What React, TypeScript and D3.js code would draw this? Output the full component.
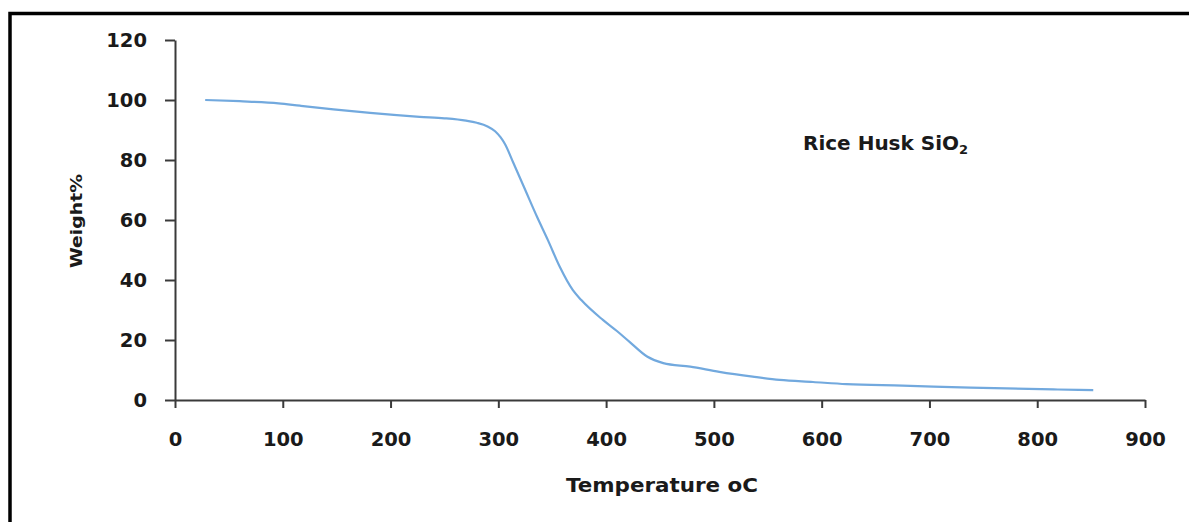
import React, { useEffect, useRef } from 'react';
import * as d3 from 'd3';

// TGA curve
const temperature = [28, 60, 96, 116, 147, 181, 227, 250, 270, 280, 290, 297, 302, 306, 314, 325, 336, 346, 357, 369, 377, 397, 410, 422, 438, 453, 478, 505, 536, 561, 592, 623, 675, 738, 819, 852];
const weight = [100, 99.6, 98.9, 98.1, 96.9, 95.7, 94.4, 93.9, 93.1, 92.4, 91.2, 89.6, 87.6, 85.4, 79, 70, 61, 53.3, 44.4, 36.7, 33.3, 26.7, 23, 19.3, 14.5, 12.3, 11.1, 9.4, 7.8, 6.7, 6, 5.3, 4.8, 4.1, 3.5, 3.3];
const xTicks = [0, 100, 200, 300, 400, 500, 600, 700, 800, 900];
const yTicks = [0, 20, 40, 60, 80, 100, 120];

const W = 1189;
const H = 522;
const FONT = '"DejaVu Sans", sans-serif';

const App = () => {
  const svgRef = useRef<SVGSVGElement>(null);

  useEffect(() => {
    const svg = d3.select(svgRef.current);
    svg.selectAll('*').remove();

    const margin = { top: 40, left: 175, right: 44, bottom: 122 };

    const x = d3.scaleLinear().domain([0, 900]).range([margin.left, W - margin.right]);
    const y = d3.scaleLinear().domain([0, 120]).range([H - margin.bottom, margin.top]);

    // outer frame, runs off the right and bottom edges
    svg.append('rect')
      .attr('x', 10).attr('y', 13.5)
      .attr('width', 1300).attr('height', 700)
      .attr('fill', 'white')
      .attr('stroke', 'black')
      .attr('stroke-width', 3.5);

    // axes
    const xAxis = svg.append('g')
      .attr('transform', `translate(0,${y(0)})`)
      .call(d3.axisBottom(x).tickValues(xTicks).tickSize(8).tickSizeOuter(0).tickPadding(24));
    const yAxis = svg.append('g')
      .attr('transform', `translate(${x(0)},0)`)
      .call(d3.axisLeft(y).tickValues(yTicks).tickSize(10).tickSizeOuter(0).tickPadding(18));

    [xAxis, yAxis].forEach(a => {
      a.select('.domain').attr('stroke', '#3a3a3a').attr('stroke-width', 2);
      a.selectAll('.tick line').attr('stroke', '#3a3a3a').attr('stroke-width', 2);
      a.selectAll('.tick text')
        .attr('fill', '#1a1a1a')
        .attr('font-family', FONT)
        .attr('font-weight', 'bold')
        .attr('font-size', 19.5);
    });

    // curve
    const pts = temperature.map((t, i) => [t, weight[i]] as [number, number]);
    svg.append('path')
      .datum(pts)
      .attr('fill', 'none')
      .attr('stroke', '#72a9de')
      .attr('stroke-width', 2.2)
      .attr('d', d3.line<[number, number]>().x(d => x(d[0])).y(d => y(d[1])).curve(d3.curveMonotoneX));

    // axis titles
    svg.append('text')
      .attr('x', 662)
      .attr('y', 492)
      .attr('text-anchor', 'middle')
      .attr('font-family', FONT)
      .attr('font-weight', 'bold')
      .attr('font-size', 19)
      .attr('fill', '#1a1a1a')
      .attr('textLength', 192)
      .attr('lengthAdjust', 'spacingAndGlyphs')
      .text('Temperature oC');

    svg.append('text')
      .attr('transform', 'translate(82,221) rotate(-90)')
      .attr('text-anchor', 'middle')
      .attr('font-family', FONT)
      .attr('font-weight', 'bold')
      .attr('font-size', 16)
      .attr('fill', '#1a1a1a')
      .attr('textLength', 94)
      .attr('lengthAdjust', 'spacingAndGlyphs')
      .text('Weight%');

    // sample label
    const label = svg.append('text')
      .attr('x', 803)
      .attr('y', 150)
      .attr('font-family', FONT)
      .attr('font-weight', 'bold')
      .attr('font-size', 20)
      .attr('fill', '#1a1a1a');
    label.append('tspan').text('Rice Husk SiO');
    label.append('tspan').attr('font-size', 13).attr('dy', 4).text('2');
  }, []);

  return (
    <svg ref={svgRef} width={W} height={H} style={{ position: 'absolute', left: 0, top: 0 }}></svg>
  );
};

export default App;
